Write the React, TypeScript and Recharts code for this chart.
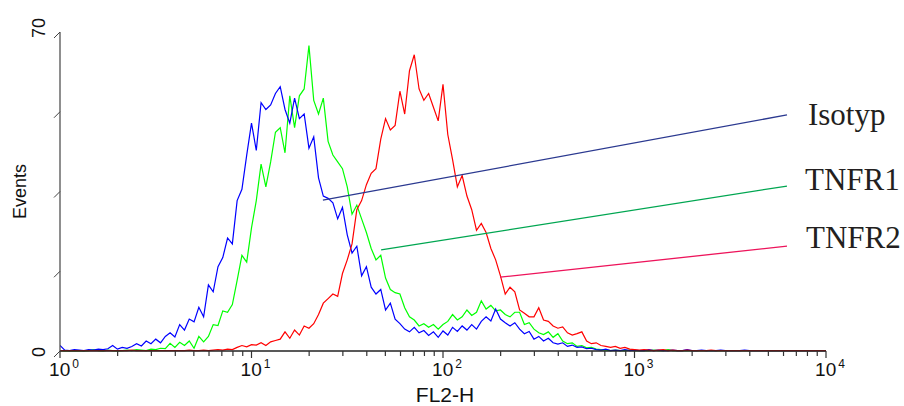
import React from "react";
import {
  LineChart,
  Line,
  XAxis,
  YAxis,
  ReferenceLine,
  ReferenceDot,
} from "recharts";

// channel positions: 40 steps per decade, 10^0 .. 10^4
const channels = Array.from({ length: 161 }, (_, i) => 10 ** (i / 40));

const isotyp = [
  1.2, 0.2, 0.1, 0.3, 0.2, 0.1, 0.3, 0.2, 0.4, 0.3,
  0.5, 1.2, 0.4, 0.8, 0.6, 1.0, 1.6, 1.1, 2.2, 1.6,
  2.6, 1.8, 3.2, 4.0, 3.1, 5.8, 4.6, 7.0, 6.4, 9.6,
  7.5, 14.5, 13.0, 18.5, 20.5, 24.8, 23.5, 33.0, 35.5, 43.0,
  50.0, 44.0, 54.5, 53.0, 54.0, 56.5, 58.0, 53.0, 50.0, 55.5,
  51.0, 52.0, 44.5, 47.0, 38.0, 34.0, 33.5, 32.5, 29.0, 31.5,
  25.5, 21.5, 23.0, 16.5, 18.5, 14.0, 12.5, 13.5, 9.0, 10.5,
  7.0, 6.0, 4.8, 4.2, 5.2, 4.0, 4.5, 3.4, 4.2, 3.0,
  4.4, 3.5, 5.2, 4.3, 5.5, 4.6, 5.8, 4.8, 6.5, 7.5,
  6.6, 9.2, 7.0, 6.2, 5.5, 6.2, 4.8, 3.8, 4.3, 2.6,
  3.2, 2.2, 2.8, 1.8, 1.5, 1.8, 1.0, 1.3, 0.8, 0.9,
  0.5, 0.6, 0.3, 0.2, 0.4, 0.1, 0.2, 0.1, 0.3, 0.1,
  0.2, 0.1, 0.1, 0.3, 0.1, 0.2, 0.1, 0.1, 0.2, 0.1,
  0.1, 0.3, 0.1, 0.1, 0.2, 0.1, 0.1, 0.1, 0.2, 0.1,
  0.1, 0.1, 0.1, 0.2, 0.1, 0.1, 0.1, 0.1, 0.1, 0.1,
  0.1, 0.1, 0.1, 0.1, 0.1, 0.1, 0.1, 0.1, 0.1, 0.1, 0.1,
];

const tnfr1 = [
  0.1, 0.0, 0.1, 0.0, 0.1, 0.0, 0.1, 0.3, 0.1, 0.0,
  0.2, 0.1, 0.0, 0.1, 0.2, 0.1, 0.3, 0.2, 0.1, 0.4,
  0.3, 0.6, 0.5, 1.7, 0.8, 1.9, 1.2, 2.2, 0.6, 3.2,
  2.0, 3.2, 5.8, 5.6, 8.8, 8.5, 10.2, 15.5, 21.0, 19.5,
  27.0, 33.0, 41.0, 36.0, 41.5, 48.0, 49.0, 43.5, 56.0, 49.0,
  56.0, 57.5, 67.0, 55.0, 52.0, 55.5, 46.0, 43.0, 41.5, 40.0,
  36.0, 30.0, 32.0, 29.0, 26.0, 22.5, 20.0, 21.0, 16.0, 13.5,
  12.8, 12.5, 9.5, 7.5, 6.8, 5.5, 6.0, 5.2, 5.8, 4.8,
  5.8, 6.5, 8.0, 6.8, 7.5, 9.0, 7.8, 8.5, 11.0, 9.2,
  10.0, 8.8, 9.0, 8.0, 7.5, 8.5, 8.5, 5.8, 6.2, 4.8,
  4.0, 3.6, 4.2, 3.0, 3.8, 2.2, 1.6, 1.8, 1.0, 1.2,
  0.7, 0.8, 0.4, 0.3, 0.2, 0.1, 0.2, 0.1, 0.1, 0.2,
  0.1, 0.1, 0.1, 0.1, 0.2, 0.1, 0.1, 0.3, 0.1, 0.1,
  0.1, 0.1, 0.1, 0.1, 0.1, 0.1, 0.1, 0.1, 0.1, 0.1,
  0.1, 0.1, 0.1, 0.1, 0.1, 0.1, 0.1, 0.1, 0.1, 0.1,
  0.1, 0.1, 0.1, 0.1, 0.1, 0.1, 0.1, 0.1, 0.1, 0.1, 0.1,
];

const tnfr2 = [
  0.1, 0.1, 0.1, 0.1, 0.1, 0.1, 0.1, 0.1, 0.1, 0.1,
  0.1, 0.1, 0.1, 0.1, 0.1, 0.2, 0.1, 0.1, 0.1, 0.1,
  0.1, 0.1, 0.1, 0.1, 0.1, 0.1, 0.1, 0.2, 0.1, 0.1,
  0.2, 0.1, 0.2, 0.3, 0.2, 0.4, 0.3, 0.8, 1.2, 0.9,
  1.4, 1.3, 1.8, 1.2, 2.0, 2.3, 2.6, 4.2, 2.8, 4.6,
  3.5, 5.5, 5.0, 6.0, 8.0, 10.5, 11.5, 12.5, 12.0, 17.0,
  20.0, 23.5, 31.0, 33.0, 36.5, 39.0, 40.0, 46.5, 51.0, 48.5,
  49.5, 57.0, 52.0, 61.5, 65.0, 57.5, 55.0, 56.5, 53.5, 50.5,
  58.5, 47.5, 42.0, 36.0, 38.5, 34.0, 31.0, 26.5, 28.0, 26.0,
  22.5, 20.0, 16.5, 12.5, 14.0, 13.0, 9.0, 8.3, 7.5, 7.5,
  9.5, 6.8, 6.5, 5.5, 5.0, 5.3, 4.0, 3.5, 3.8, 4.2,
  2.2, 1.6, 1.8, 1.2, 1.0, 0.8, 1.0, 0.6, 0.8, 0.4,
  0.3, 0.2, 0.3, 0.2, 0.1, 0.2, 0.3, 0.1, 0.2, 0.1,
  0.1, 0.2, 0.1, 0.1, 0.1, 0.1, 0.2, 0.1, 0.1, 0.1,
  0.1, 0.1, 0.1, 0.1, 0.1, 0.1, 0.1, 0.1, 0.1, 0.1,
  0.1, 0.1, 0.1, 0.1, 0.1, 0.1, 0.1, 0.1, 0.1, 0.1, 0.1,
];

const majorTicks = [1, 10, 100, 1000, 10000];
const tickExponents = ["0", "1", "2", "3", "4"];
const minorSteps = [2, 3, 4, 5, 6, 7, 8, 9];
const yTicks = [0, 17.5, 35, 52.5, 70];
const yLabelled = [0, 70];

// callout lines: [channel, events] at the curve and at the label end
const annotations = [
  { name: "Isotyp", color: "#2b3990", from: [23.6, 33.1], to: [6256, 51.8], dx: 21, dy: 10 },
  { name: "TNFR1", color: "#00a651", from: [47.5, 22.2], to: [6256, 36.2], dx: 18, dy: 4 },
  { name: "TNFR2", color: "#ed145b", from: [198.5, 16.2], to: [6256, 23.0], dx: 19, dy: 2 },
];

const data = channels.map((ch, i) => ({
  ch,
  isotyp: isotyp[i],
  tnfr1: tnfr1[i],
  tnfr2: tnfr2[i],
}));

const xTicks = [
  ...majorTicks,
  ...majorTicks.slice(0, -1).flatMap((m) => minorSteps.map((k) => k * m)),
].sort((a, b) => a - b);

const sans = "'Liberation Sans', Arial, sans-serif";
const serif = "'Liberation Serif', 'Times New Roman', serif";

const XTick = (props: any) => {
  const { x, y, payload } = props;
  const idx = majorTicks.indexOf(payload.value);
  const major = idx >= 0;
  return (
    <g>
      <line x1={x} x2={x} y1={y} y2={y + (major ? 7 : 5)} stroke="#333" strokeWidth={1.2} />
      {major && (
        <text x={x + 4} y={y + 25} textAnchor="middle" fontSize={19} fontFamily={sans} fill="#111">
          10
          <tspan dy={-8} dx={2} fontSize={12}>
            {tickExponents[idx]}
          </tspan>
        </text>
      )}
    </g>
  );
};

const YTick = (props: any) => {
  const { x, y, payload } = props;
  const show = yLabelled.includes(payload.value);
  return (
    <g>
      <line x1={x} y1={y} x2={x - 6} y2={y + 6} stroke="#444" strokeWidth={1} />
      {show && (
        <text
          x={x - 15}
          y={y + 6}
          transform={`rotate(-90, ${x - 15}, ${y + 6})`}
          textAnchor="start"
          fontSize={18}
          fontFamily={sans}
          fill="#111"
        >
          {payload.value}
        </text>
      )}
    </g>
  );
};

export default function App() {
  return (
    <div style={{ position: "absolute", left: 0, top: 0, width: 904, height: 406, background: "#fff" }}>
      <LineChart width={904} height={406} data={data} margin={{ top: 32, right: 78, left: 0, bottom: 0 }}>
        <XAxis
          dataKey="ch"
          type="number"
          scale="log"
          domain={[1, 10000]}
          ticks={xTicks}
          interval={0}
          allowDataOverflow
          height={55}
          tickSize={0}
          tickMargin={0}
          tickLine={false}
          tick={XTick}
          axisLine={{ stroke: "#222", strokeWidth: 1.5 }}
          label={(p: any) => (
            <text
              x={p.viewBox.x + p.viewBox.width / 2 + 2}
              y={p.viewBox.y + 51}
              textAnchor="middle"
              fontSize={21}
              fontFamily={sans}
              fill="#111"
            >
              FL2-H
            </text>
          )}
        />
        <YAxis
          type="number"
          domain={[0, 70]}
          ticks={yTicks}
          interval={0}
          width={60}
          tickSize={0}
          tickMargin={0}
          tickLine={false}
          tick={YTick}
          axisLine={{ stroke: "#444", strokeWidth: 1.2 }}
          label={(p: any) => {
            const cy = p.viewBox.y + p.viewBox.height / 2;
            return (
              <text
                x={26}
                y={cy}
                transform={`rotate(-90, 26, ${cy})`}
                textAnchor="middle"
                fontSize={18}
                fontFamily={sans}
                fill="#111"
              >
                Events
              </text>
            );
          }}
        />
        <Line dataKey="tnfr1" stroke="#00ff00" strokeWidth={1.2} dot={false} isAnimationActive={false} />
        <Line dataKey="isotyp" stroke="#0000ff" strokeWidth={1.2} dot={false} isAnimationActive={false} />
        <Line dataKey="tnfr2" stroke="#ff0000" strokeWidth={1.2} dot={false} isAnimationActive={false} />
        {annotations.map((a) => (
          <ReferenceLine
            key={a.name}
            segment={[
              { x: a.from[0], y: a.from[1] },
              { x: a.to[0], y: a.to[1] },
            ]}
            stroke={a.color}
            strokeWidth={1.3}
            ifOverflow="visible"
          />
        ))}
        {annotations.map((a) => (
          <ReferenceDot
            key={a.name + "-label"}
            x={a.to[0]}
            y={a.to[1]}
            r={1}
            ifOverflow="visible"
            shape={(p: any) => (
              <text x={p.cx + a.dx} y={p.cy + a.dy} fontSize={31} fontFamily={serif} fill="#231f20">
                {a.name}
              </text>
            )}
          />
        ))}
      </LineChart>
    </div>
  );
}
